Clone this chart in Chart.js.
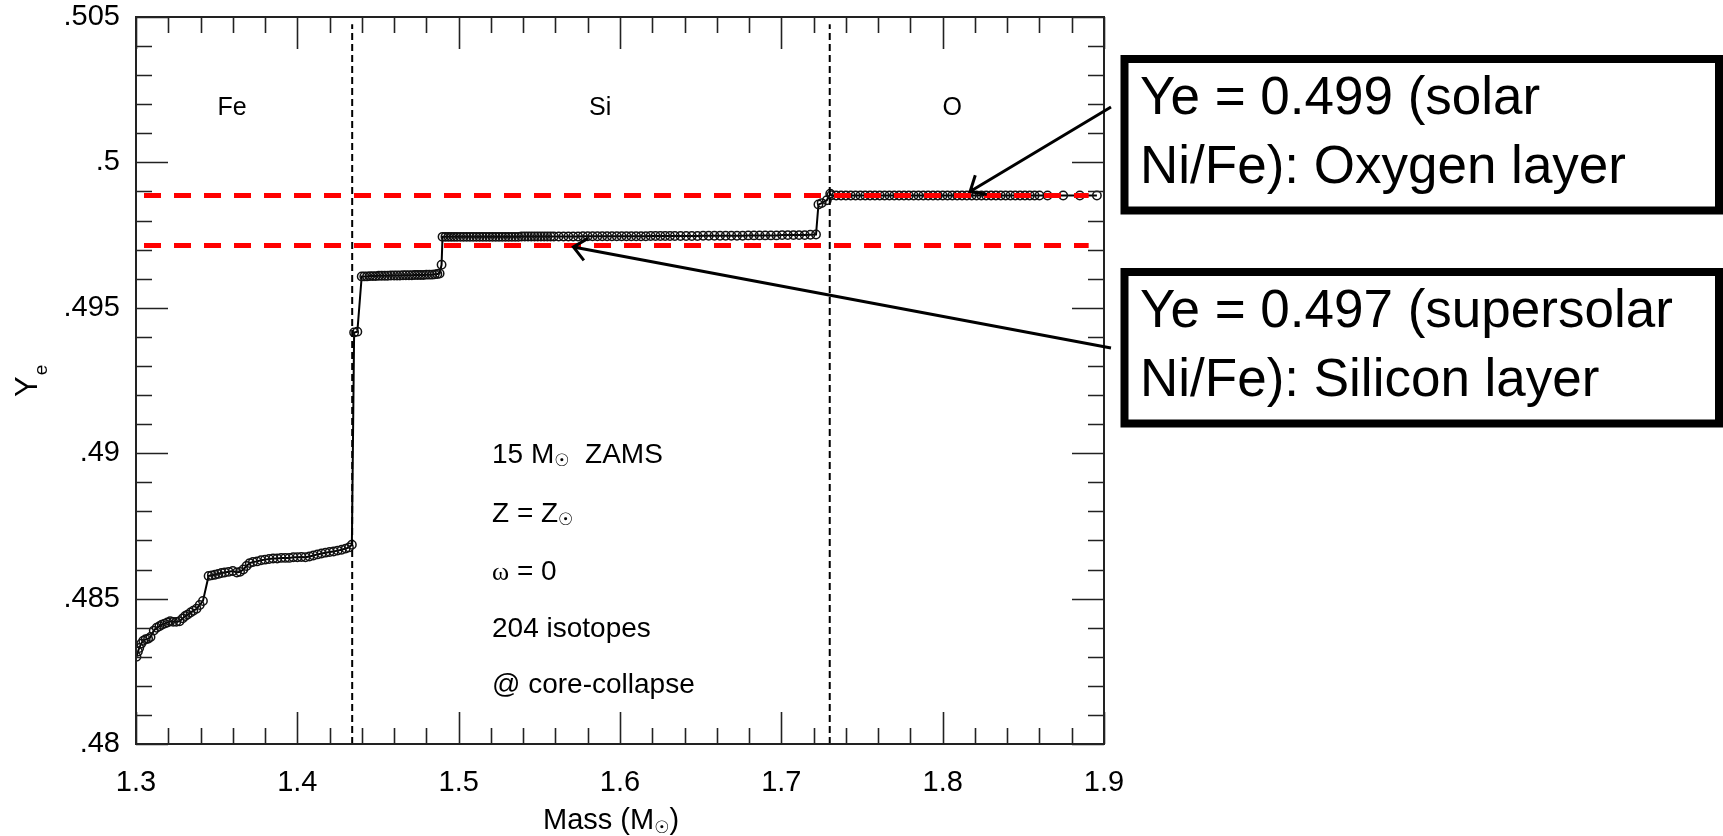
<!DOCTYPE html>
<html>
<head>
<meta charset="utf-8">
<title>Ye profile at core collapse</title>
<script src="https://cdn.jsdelivr.net/npm/chart.js@4.4.0/dist/chart.umd.min.js"></script>
<style>
  html, body { margin: 0; padding: 0; background: #fff; }
  #wrap { width: 1723px; height: 836px; }
</style>
</head>
<body>
<div id="wrap"><canvas id="chart" width="1723" height="836"></canvas></div>
<script>
// Ye vs mass coordinate for a 15 Msun star at core collapse, with Fe / Si / O shells marked

// ---------- data ----------
const X_TICKS = [1.3, 1.4, 1.5, 1.6, 1.7, 1.8, 1.9];
const Y_TICKS = [0.48, 0.485, 0.49, 0.495, 0.5, 0.505];
const X_MINOR = [1.32, 1.34, 1.36, 1.38, 1.42, 1.44, 1.46, 1.48, 1.52, 1.54, 1.56, 1.58, 1.62, 1.64, 1.66, 1.68, 1.72, 1.74, 1.76, 1.78, 1.82, 1.84, 1.86, 1.88];
const Y_MINOR = [0.481, 0.482, 0.483, 0.484, 0.486, 0.487, 0.488, 0.489, 0.491, 0.492, 0.493, 0.494, 0.496, 0.497, 0.498, 0.499, 0.501, 0.502, 0.503, 0.504];

// iron core: [mass, Ye]
const FE_POINTS = [
  [1.3003,0.48300],[1.3012,0.48318],[1.3020,0.48330],[1.3032,0.48345],[1.3045,0.48355],
  [1.3060,0.48360],[1.3075,0.48362],[1.3090,0.48368],[1.3110,0.48390],[1.3128,0.48400],
  [1.3145,0.48405],[1.3160,0.48410],[1.3178,0.48414],[1.3195,0.48418],[1.3212,0.48422],
  [1.3230,0.48420],[1.3250,0.48420],[1.3270,0.48422],[1.3290,0.48432],[1.3305,0.48440],
  [1.3320,0.48445],[1.3338,0.48452],[1.3355,0.48458],[1.3375,0.48465],[1.3395,0.48478],
  [1.3415,0.48492],[1.3450,0.48578],[1.3470,0.48580],[1.3490,0.48582],[1.3510,0.48585],
  [1.3530,0.48588],[1.3550,0.48590],[1.3575,0.48592],[1.3600,0.48595],[1.3625,0.48590],
  [1.3645,0.48592],[1.3665,0.48600],[1.3685,0.48612],[1.3705,0.48622],[1.3725,0.48626],
  [1.3750,0.48628],[1.3775,0.48632],[1.3800,0.48634],[1.3825,0.48636],[1.3850,0.48638],
  [1.3875,0.48638],[1.3900,0.48640],[1.3925,0.48640],[1.3950,0.48640],[1.3975,0.48642],
  [1.4000,0.48642],[1.4025,0.48643],[1.4050,0.48642],[1.4075,0.48645],[1.4100,0.48648],
  [1.4125,0.48652],[1.4150,0.48655],[1.4175,0.48658],[1.4200,0.48660],[1.4225,0.48662],
  [1.4250,0.48665],[1.4275,0.48668],[1.4300,0.48672],[1.4320,0.48676],[1.4338,0.48685]
];

// silicon shell
const SI_POINTS = [
  [1.4352,0.49415],[1.4372,0.49418],
  [1.4399,0.49608],[1.4415,0.49608],[1.4432,0.49608],[1.4450,0.49609],[1.4468,0.49609],
  [1.4486,0.49609],[1.4505,0.49610],[1.4523,0.49610],[1.4542,0.49610],[1.4560,0.49610],
  [1.4580,0.49611],[1.4600,0.49611],[1.4618,0.49611],[1.4636,0.49611],[1.4655,0.49612],
  [1.4673,0.49612],[1.4692,0.49612],[1.4710,0.49612],[1.4728,0.49613],[1.4746,0.49613],
  [1.4764,0.49613],[1.4782,0.49613],[1.4800,0.49614],[1.4818,0.49614],[1.4836,0.49614],
  [1.4852,0.49615],[1.4868,0.49616],[1.4882,0.49618],
  [1.4894,0.49648],
  [1.4900,0.49744],[1.4918,0.49744],[1.4936,0.49744],[1.4954,0.49744],[1.4972,0.49744],
  [1.4990,0.49744],[1.5010,0.49744],[1.5030,0.49744],[1.5050,0.49744],[1.5070,0.49744],
  [1.5090,0.49744],[1.5110,0.49744],[1.5130,0.49744],[1.5150,0.49744],[1.5170,0.49744],
  [1.5190,0.49744],[1.5210,0.49744],[1.5230,0.49744],[1.5250,0.49744],[1.5270,0.49744],
  [1.5290,0.49744],[1.5310,0.49744],[1.5330,0.49744],[1.5350,0.49744],[1.5370,0.49744],
  [1.5390,0.49745],[1.5410,0.49745],[1.5430,0.49745],[1.5450,0.49745],[1.5470,0.49745],
  [1.5490,0.49745],[1.5510,0.49745],[1.5530,0.49745],[1.5550,0.49745],[1.5570,0.49745],
  [1.5590,0.49745],[1.5620,0.49745],[1.5650,0.49745],[1.5680,0.49745],[1.5710,0.49745],
  [1.5740,0.49745],[1.5770,0.49746],[1.5800,0.49746],[1.5830,0.49746],[1.5860,0.49746],
  [1.5890,0.49746],[1.5920,0.49746],[1.5950,0.49746],[1.5980,0.49746],[1.6010,0.49746],
  [1.6040,0.49746],[1.6070,0.49746],[1.6100,0.49746],[1.6130,0.49746],[1.6160,0.49746],
  [1.6190,0.49747],[1.6220,0.49747],[1.6250,0.49747],[1.6280,0.49747],[1.6310,0.49747],
  [1.6340,0.49747],[1.6375,0.49747],[1.6410,0.49747],[1.6445,0.49747],[1.6480,0.49747],
  [1.6515,0.49748],[1.6550,0.49748],[1.6585,0.49748],[1.6620,0.49748],[1.6655,0.49748],
  [1.6690,0.49748],[1.6725,0.49748],[1.6760,0.49748],[1.6795,0.49749],[1.6830,0.49749],
  [1.6865,0.49749],[1.6900,0.49749],[1.6935,0.49749],[1.6970,0.49749],[1.7005,0.49750],
  [1.7040,0.49750],[1.7075,0.49750],[1.7110,0.49750],[1.7145,0.49750],[1.7180,0.49751],
  [1.7215,0.49752]
];

// oxygen shell
const O_POINTS = [
  [1.7230,0.49855],[1.7250,0.49860],[1.7282,0.49870],[1.7303,0.49892],
  [1.7310,0.49887],[1.7340,0.49886],[1.7370,0.49886],[1.7400,0.49886],[1.7430,0.49886],
  [1.7460,0.49886],[1.7490,0.49886],[1.7520,0.49886],[1.7550,0.49886],[1.7580,0.49886],
  [1.7610,0.49886],[1.7640,0.49886],[1.7670,0.49886],[1.7700,0.49886],[1.7730,0.49886],
  [1.7760,0.49886],[1.7790,0.49886],[1.7820,0.49886],[1.7850,0.49886],[1.7880,0.49886],
  [1.7910,0.49886],[1.7940,0.49886],[1.7970,0.49886],[1.8000,0.49886],[1.8030,0.49886],
  [1.8060,0.49886],[1.8090,0.49886],[1.8120,0.49886],[1.8150,0.49886],[1.8180,0.49886],
  [1.8210,0.49886],[1.8240,0.49886],[1.8270,0.49886],[1.8300,0.49886],[1.8330,0.49886],
  [1.8360,0.49886],[1.8390,0.49886],[1.8420,0.49886],[1.8450,0.49886],[1.8480,0.49886],
  [1.8510,0.49886],[1.8540,0.49886],[1.8570,0.49886],[1.8600,0.49886],[1.8650,0.49886],
  [1.8747,0.49886],[1.8850,0.49886],[1.8956,0.49886]
];

// red reference levels (solar / supersolar Ni/Fe) and their x extent
const REF_YE = [0.49886, 0.49714];
const REF_MASS_RANGE = [1.3, 1.8905];

// shell boundaries (vertical dashed lines)
const BOUNDARY_MASS = [1.434, 1.730];
const BOUNDARY_YE_RANGE = [0.48, 0.50475];

const SHELL_NAMES = ["Fe", "Si", "O"];
const SHELL_LABEL_MASS = [1.3595, 1.5877, 1.8059];

const BOX_TEXT = [
  ["Ye = 0.499 (solar", "Ni/Fe): Oxygen layer"],
  ["Ye = 0.497 (supersolar", "Ni/Fe): Silicon layer"]
];
// where each callout arrow points, in data units
const ARROW_TARGETS = [[1.8170, 0.49900], [1.5711, 0.49709]];

const SANS = '"Liberation Sans", Arial, Helvetica, sans-serif';
const SERIF = '"Liberation Serif", "Times New Roman", serif';
const SYMBOL = '"DejaVu Sans", sans-serif';

const toXY = (pts) => pts.map(([x, y]) => ({ x, y }));

function fmtY(v) {
  return Number(v.toFixed(3)).toString().replace(/^0/, "");
}

// draws a run of text pieces with their own font / vertical shift
function drawRich(ctx, x, y, parts) {
  let cx = x;
  parts.forEach((p) => {
    ctx.font = p.font;
    ctx.fillText(p.t, cx, y + (p.dy || 0));
    cx += ctx.measureText(p.t).width;
  });
}

function drawArrow(ctx, x0, y0, x1, y1) {
  const ang = Math.atan2(y0 - y1, x0 - x1);
  const head = 17, spread = 0.72;
  ctx.beginPath();
  ctx.moveTo(x0, y0);
  ctx.lineTo(x1, y1);
  ctx.moveTo(x1 + head * Math.cos(ang + spread), y1 + head * Math.sin(ang + spread));
  ctx.lineTo(x1, y1);
  ctx.lineTo(x1 + head * Math.cos(ang - spread), y1 + head * Math.sin(ang - spread));
  ctx.stroke();
}

// frame, inward ticks, labels and callouts
const decorPlugin = {
  id: "decor",
  afterDatasetsDraw(chart) {
    const { ctx, chartArea: a, scales: { x, y } } = chart;
    ctx.save();
    ctx.strokeStyle = "#222";
    ctx.lineWidth = 1.6;
    ctx.beginPath();
    X_TICKS.forEach((v) => {
      const px = Math.round(x.getPixelForValue(v)) + 0.5;
      ctx.moveTo(px, a.bottom); ctx.lineTo(px, a.bottom - 32);
      ctx.moveTo(px, a.top); ctx.lineTo(px, a.top + 32);
    });
    X_MINOR.forEach((v) => {
      const px = Math.round(x.getPixelForValue(v)) + 0.5;
      ctx.moveTo(px, a.bottom); ctx.lineTo(px, a.bottom - 16);
      ctx.moveTo(px, a.top); ctx.lineTo(px, a.top + 16);
    });
    Y_TICKS.forEach((v) => {
      const py = Math.round(y.getPixelForValue(v)) + 0.5;
      ctx.moveTo(a.left, py); ctx.lineTo(a.left + 32, py);
      ctx.moveTo(a.right, py); ctx.lineTo(a.right - 32, py);
    });
    Y_MINOR.forEach((v) => {
      const py = Math.round(y.getPixelForValue(v)) + 0.5;
      ctx.moveTo(a.left, py); ctx.lineTo(a.left + 16, py);
      ctx.moveTo(a.right, py); ctx.lineTo(a.right - 16, py);
    });
    ctx.stroke();
    ctx.lineWidth = 2;
    ctx.strokeRect(a.left, a.top, a.right - a.left, a.bottom - a.top);

    // shell names
    ctx.fillStyle = "#000";
    ctx.font = "25px " + SANS;
    ctx.textAlign = "center";
    ctx.textBaseline = "alphabetic";
    SHELL_NAMES.forEach((n, i) => ctx.fillText(n, x.getPixelForValue(SHELL_LABEL_MASS[i]), 115));
    ctx.restore();
  },
  afterDraw(chart) {
    const { ctx, scales: { x, y } } = chart;
    ctx.save();
    ctx.fillStyle = "#000";
    ctx.textAlign = "left";
    ctx.textBaseline = "alphabetic";

    // model description
    const f28 = "28px " + SANS, sun = "17px " + SYMBOL;
    drawRich(ctx, 492, 463, [{ t: "15 M", font: f28 }, { t: "\u2609", font: sun, dy: 3 }, { t: "  ZAMS", font: f28 }]);
    drawRich(ctx, 492, 522, [{ t: "Z = Z", font: f28 }, { t: "\u2609", font: sun, dy: 3 }]);
    drawRich(ctx, 492, 580, [{ t: "\u03c9", font: "26px " + SERIF }, { t: " = 0", font: f28 }]);
    drawRich(ctx, 492, 637, [{ t: "204 isotopes", font: f28 }]);
    drawRich(ctx, 492, 693, [{ t: "@ core-collapse", font: f28 }]);

    // axis titles
    drawRich(ctx, 543, 829, [{ t: "Mass (M", font: "29px " + SANS }, { t: "\u2609", font: sun, dy: 4 }, { t: ")", font: "29px " + SANS }]);
    ctx.save();
    ctx.translate(37, 397);
    ctx.rotate(-Math.PI / 2);
    ctx.font = "31px " + SANS;
    ctx.fillText("Y", 0, 0);
    const yw = ctx.measureText("Y").width;
    ctx.font = "19px " + SANS;
    ctx.fillText("e", yw + 1, 10);
    ctx.restore();

    // callout boxes
    const boxTops = [59, 272];
    ctx.strokeStyle = "#000";
    ctx.lineWidth = 8;
    ctx.font = "53px " + SANS;
    BOX_TEXT.forEach((lines, i) => {
      const top = boxTops[i];
      ctx.strokeRect(1124.5, top, 1719 - 1124.5, 151.5);
      ctx.fillText(lines[0], 1140, top + 54.5);
      ctx.fillText(lines[1], 1140, top + 124);
    });

    // arrows
    ctx.lineWidth = 3;
    const starts = [[1111, 107], [1111, 348]];
    ARROW_TARGETS.forEach(([m, v], i) => {
      drawArrow(ctx, starts[i][0], starts[i][1], x.getPixelForValue(m), y.getPixelForValue(v));
    });
    ctx.restore();
  }
};

new Chart(document.getElementById("chart"), {
  type: "scatter",
  data: {
    datasets: [
      {
        label: "solar Ni/Fe",
        data: REF_MASS_RANGE.map((m) => ({ x: m, y: REF_YE[0] })),
        showLine: true, borderColor: "#ff0000", borderWidth: 5,
        borderDash: [17, 13], borderDashOffset: 22, pointRadius: 0, order: 0
      },
      {
        label: "supersolar Ni/Fe",
        data: REF_MASS_RANGE.map((m) => ({ x: m, y: REF_YE[1] })),
        showLine: true, borderColor: "#ff0000", borderWidth: 5,
        borderDash: [17, 13], borderDashOffset: 22, pointRadius: 0, order: 0
      },
      ...BOUNDARY_MASS.map((m) => ({
        label: "boundary",
        data: BOUNDARY_YE_RANGE.map((v) => ({ x: m, y: v })),
        showLine: true, borderColor: "#000", borderWidth: 2,
        borderDash: [7, 4], pointRadius: 0, order: 1
      })),
      {
        label: "Ye",
        data: toXY(FE_POINTS.concat(SI_POINTS, O_POINTS)),
        showLine: true, borderColor: "#000", borderWidth: 2,
        pointRadius: 4.2, pointBorderWidth: 1.5,
        pointBorderColor: "#111", pointBackgroundColor: "rgba(0,0,0,0)",
        order: 2
      }
    ]
  },
  options: {
    responsive: false,
    animation: false,
    devicePixelRatio: 1,
    layout: { padding: { top: 17, right: 619, left: 0, bottom: 0 } },
    plugins: { legend: { display: false }, tooltip: { enabled: false } },
    scales: {
      x: {
        type: "linear", min: 1.3, max: 1.9,
        afterBuildTicks: (s) => { s.ticks = X_TICKS.map((v) => ({ value: v })); },
        afterFit: (s) => { s.height = 92; },
        grid: { display: false }, border: { display: false },
        ticks: {
          color: "#000", font: { family: SANS, size: 29 }, padding: 14,
          autoSkip: false, maxRotation: 0,
          callback: (v) => v.toFixed(1)
        }
      },
      y: {
        type: "linear", min: 0.48, max: 0.505,
        afterBuildTicks: (s) => { s.ticks = Y_TICKS.map((v) => ({ value: v })); },
        // keep the plot top at 17px: the tick padding would otherwise push it down
        afterFit: (s) => { s.width = 136; s.paddingTop = 0; s.paddingBottom = 0; },
        grid: { display: false }, border: { display: false },
        ticks: {
          color: "#000", font: { family: SANS, size: 29 }, padding: 8,
          autoSkip: false,
          callback: (v) => fmtY(v)
        }
      }
    }
  },
  plugins: [decorPlugin]
});
</script>
</body>
</html>
